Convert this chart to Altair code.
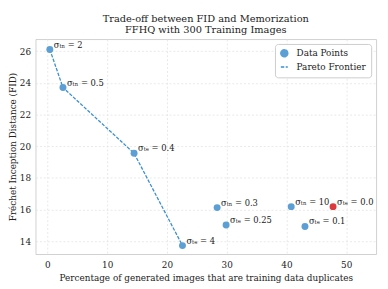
import altair as alt
import pandas as pd

labels = ["σₜₙ = 2", "σₜₙ = 0.5", "σₜₑ = 0.4", "σₜₑ = 4", "σₜₙ = 0.3",
          "σₜₑ = 0.25", "σₜₙ = 10", "σₜₑ = 0.1", "σₜₑ = 0.0"]
dup_pct = [0.4, 2.6, 14.5, 22.6, 28.4, 29.9, 40.8, 43.1, 47.8]
fid = [26.1, 23.7, 19.55, 13.72, 16.12, 15.02, 16.18, 14.93, 16.18]
highlight = [False, False, False, False, False, False, False, False, True]
pareto_idx = [0, 1, 2, 3]

df = pd.DataFrame({"x": dup_pct, "y": fid, "label": labels, "hl": highlight})
df["kind"] = "Data Points"
pareto = df.iloc[pareto_idx].copy()
pareto["kind"] = "Pareto Frontier"
pareto["order"] = list(range(len(pareto)))

FONT = "DejaVu Serif"
xs = alt.Scale(domain=[-2, 55], nice=False, zero=False)
ys = alt.Scale(domain=[13.19, 26.76], nice=False, zero=False)

kinds = ["Data Points", "Pareto Frontier"]
legend = alt.Legend(title=None, orient="top-right", offset=5, labelFont=FONT,
                    labelFontSize=9, labelColor="#222", fillColor="white",
                    strokeColor="#cccccc", cornerRadius=3, padding=5,
                    symbolSize=50, symbolStrokeWidth=1.5, rowPadding=2,
                    labelOffset=8)
color = alt.Color("kind:N", scale=alt.Scale(domain=kinds, range=["#5b9fd5", "#3a8fd0"]), legend=legend)
shape = alt.Shape("kind:N", scale=alt.Scale(domain=kinds, range=["circle", "stroke"]), legend=legend)
dash = alt.StrokeDash("kind:N", scale=alt.Scale(domain=kinds, range=[[1, 0], [3.5, 1.5]]), legend=legend)

xenc = alt.X("x:Q", scale=xs, title="Percentage of generated images that are training data duplicates",
             axis=alt.Axis(values=[0, 10, 20, 30, 40, 50]))
yenc = alt.Y("y:Q", scale=ys, title="Fréchet Inception Distance (FID)",
             axis=alt.Axis(values=[14, 16, 18, 20, 22, 24, 26]))

line = alt.Chart(pareto).mark_line(strokeWidth=1.3).encode(
    x=xenc, y=yenc, order="order:Q", color=color, strokeDash=dash)

pts = alt.Chart(df).transform_filter("!datum.hl").mark_point(filled=True, size=50, opacity=1).encode(
    x=xenc, y=yenc, color=color, shape=shape)

red = alt.Chart(df).transform_filter("datum.hl").mark_point(filled=True, size=50, opacity=1, color="#dc3a3e").encode(
    x=xenc, y=yenc)

txt = alt.Chart(df).mark_text(align="left", baseline="middle", dx=4, dy=-5, font=FONT,
                              fontSize=8.5, color="#222").encode(x=xenc, y=yenc, text="label:N")

chart = alt.layer(line, pts, red, txt).properties(
    width=347, height=219,
    title=alt.Title(["Trade-off between FID and Memorization", "FFHQ with 300 Training Images"],
                    font=FONT, fontSize=10, fontWeight="normal", color="#222", offset=4,
                    lineHeight=11, anchor="middle"),
    autosize=alt.AutoSizeParams(type="none"),
    padding={"left": 28, "top": 29, "right": 4, "bottom": 33},
).configure_axis(
    labelFont=FONT, titleFont=FONT, labelFontSize=9, titleFontSize=9, labelColor="#222",
    titleColor="#222", titleFontWeight="normal", grid=True, gridColor="#e3e3e3", gridDash=[2, 2],
    gridWidth=0.8, domain=False, ticks=False,
).configure_axisX(titlePadding=4, labelPadding=7).configure_axisY(titlePadding=2, labelPadding=5).configure_view(
    stroke="#d0d0d0", strokeWidth=1
)

chart.save("out.html", embed_options={"renderer": "svg", "actions": False})
